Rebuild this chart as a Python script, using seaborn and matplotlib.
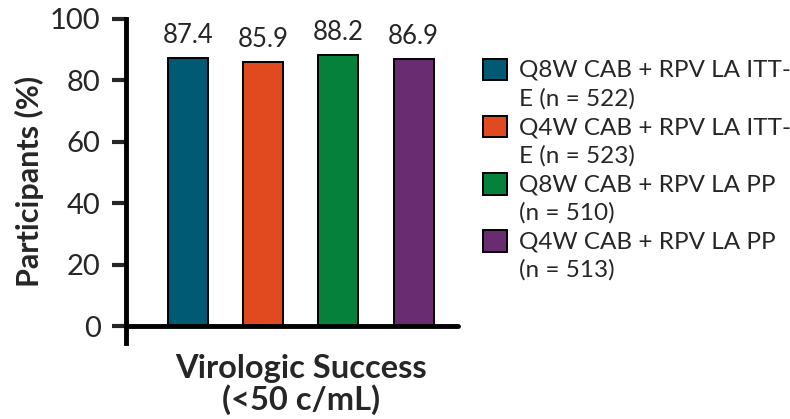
import matplotlib
matplotlib.use("Agg")
import matplotlib.pyplot as plt
import matplotlib.patches as mpatches
from matplotlib.legend_handler import HandlerPatch
import seaborn as sns
import pandas as pd

# Data
category = ["Virologic Success\n(<50 c/mL)"]
groups = [
    "Q8W CAB + RPV LA ITT-\nE (n = 522)",
    "Q4W CAB + RPV LA ITT-\nE (n = 523)",
    "Q8W CAB + RPV LA PP\n(n = 510)",
    "Q4W CAB + RPV LA PP\n(n = 513)",
]
values = [87.4, 85.9, 88.2, 86.9]
colors = ["#005A73", "#E04A1E", "#05813B", "#6A2C70"]
yticks = [0, 20, 40, 60, 80, 100]

df = pd.DataFrame({
    "category": category * len(groups),
    "group": groups,
    "value": values,
})

sns.set_theme(style="white")
plt.rcParams["font.family"] = ["Lato", "DejaVu Sans"]

fig = plt.figure(figsize=(7.9, 4.19), dpi=100)
ax = fig.add_axes([0.159, 0.181, 0.421, 0.774])

sns.barplot(data=df, x="category", y="value", hue="group", palette=colors,
            saturation=1, width=0.8, gap=0.467, edgecolor="black",
            linewidth=1.4, errorbar=None, ax=ax, legend=True)

for cont in ax.containers:
    ax.bar_label(cont, fmt="%.1f", padding=7, fontsize=18.5)

ax.set_ylim(-5.5, 100)
ax.set_xlim(-0.467, 0.419)
ax.set_yticks(yticks)
ax.set_yticklabels([str(t) for t in yticks], fontsize=21)
ax.tick_params(axis="y", length=10, width=3, direction="out", pad=8, left=True)
ax.tick_params(axis="x", length=0, pad=8)
for lbl in ax.get_xticklabels():
    lbl.set_fontsize(23.5)
    lbl.set_fontweight("bold")
    lbl.set_linespacing(1.05)

for s in ["top", "right", "bottom"]:
    ax.spines[s].set_visible(False)
ax.spines["left"].set_linewidth(3.5)
ax.spines["left"].set_color("black")
ax.axhline(0, color="black", linewidth=3.5, zorder=5, clip_on=False)

ax.set_xlabel("")
ax.set_ylabel("Participants (%)", fontsize=22, fontweight="bold", labelpad=4)


# Square swatches sitting beside the first line of each two-line label
def top_square(legend, orig_handle, xdescent, ydescent, width, height, fontsize):
    return mpatches.Rectangle((-xdescent, -ydescent + 11), width, height)


handles, labels = ax.get_legend_handles_labels()
leg = ax.legend(handles, labels, loc="upper left",
                bbox_to_anchor=(0.611, 0.857),
                bbox_transform=fig.transFigure, frameon=False, fontsize=17.5,
                handlelength=1.0, handleheight=1.0, handletextpad=0.5,
                labelspacing=0.33, borderaxespad=0, borderpad=0,
                handler_map={mpatches.Rectangle: HandlerPatch(patch_func=top_square)})
for t in leg.get_texts():
    t.set_linespacing(1.38)
for h in leg.legend_handles:
    h.set_edgecolor("black")
    h.set_linewidth(1.4)

fig.savefig("out.png", dpi=100)
